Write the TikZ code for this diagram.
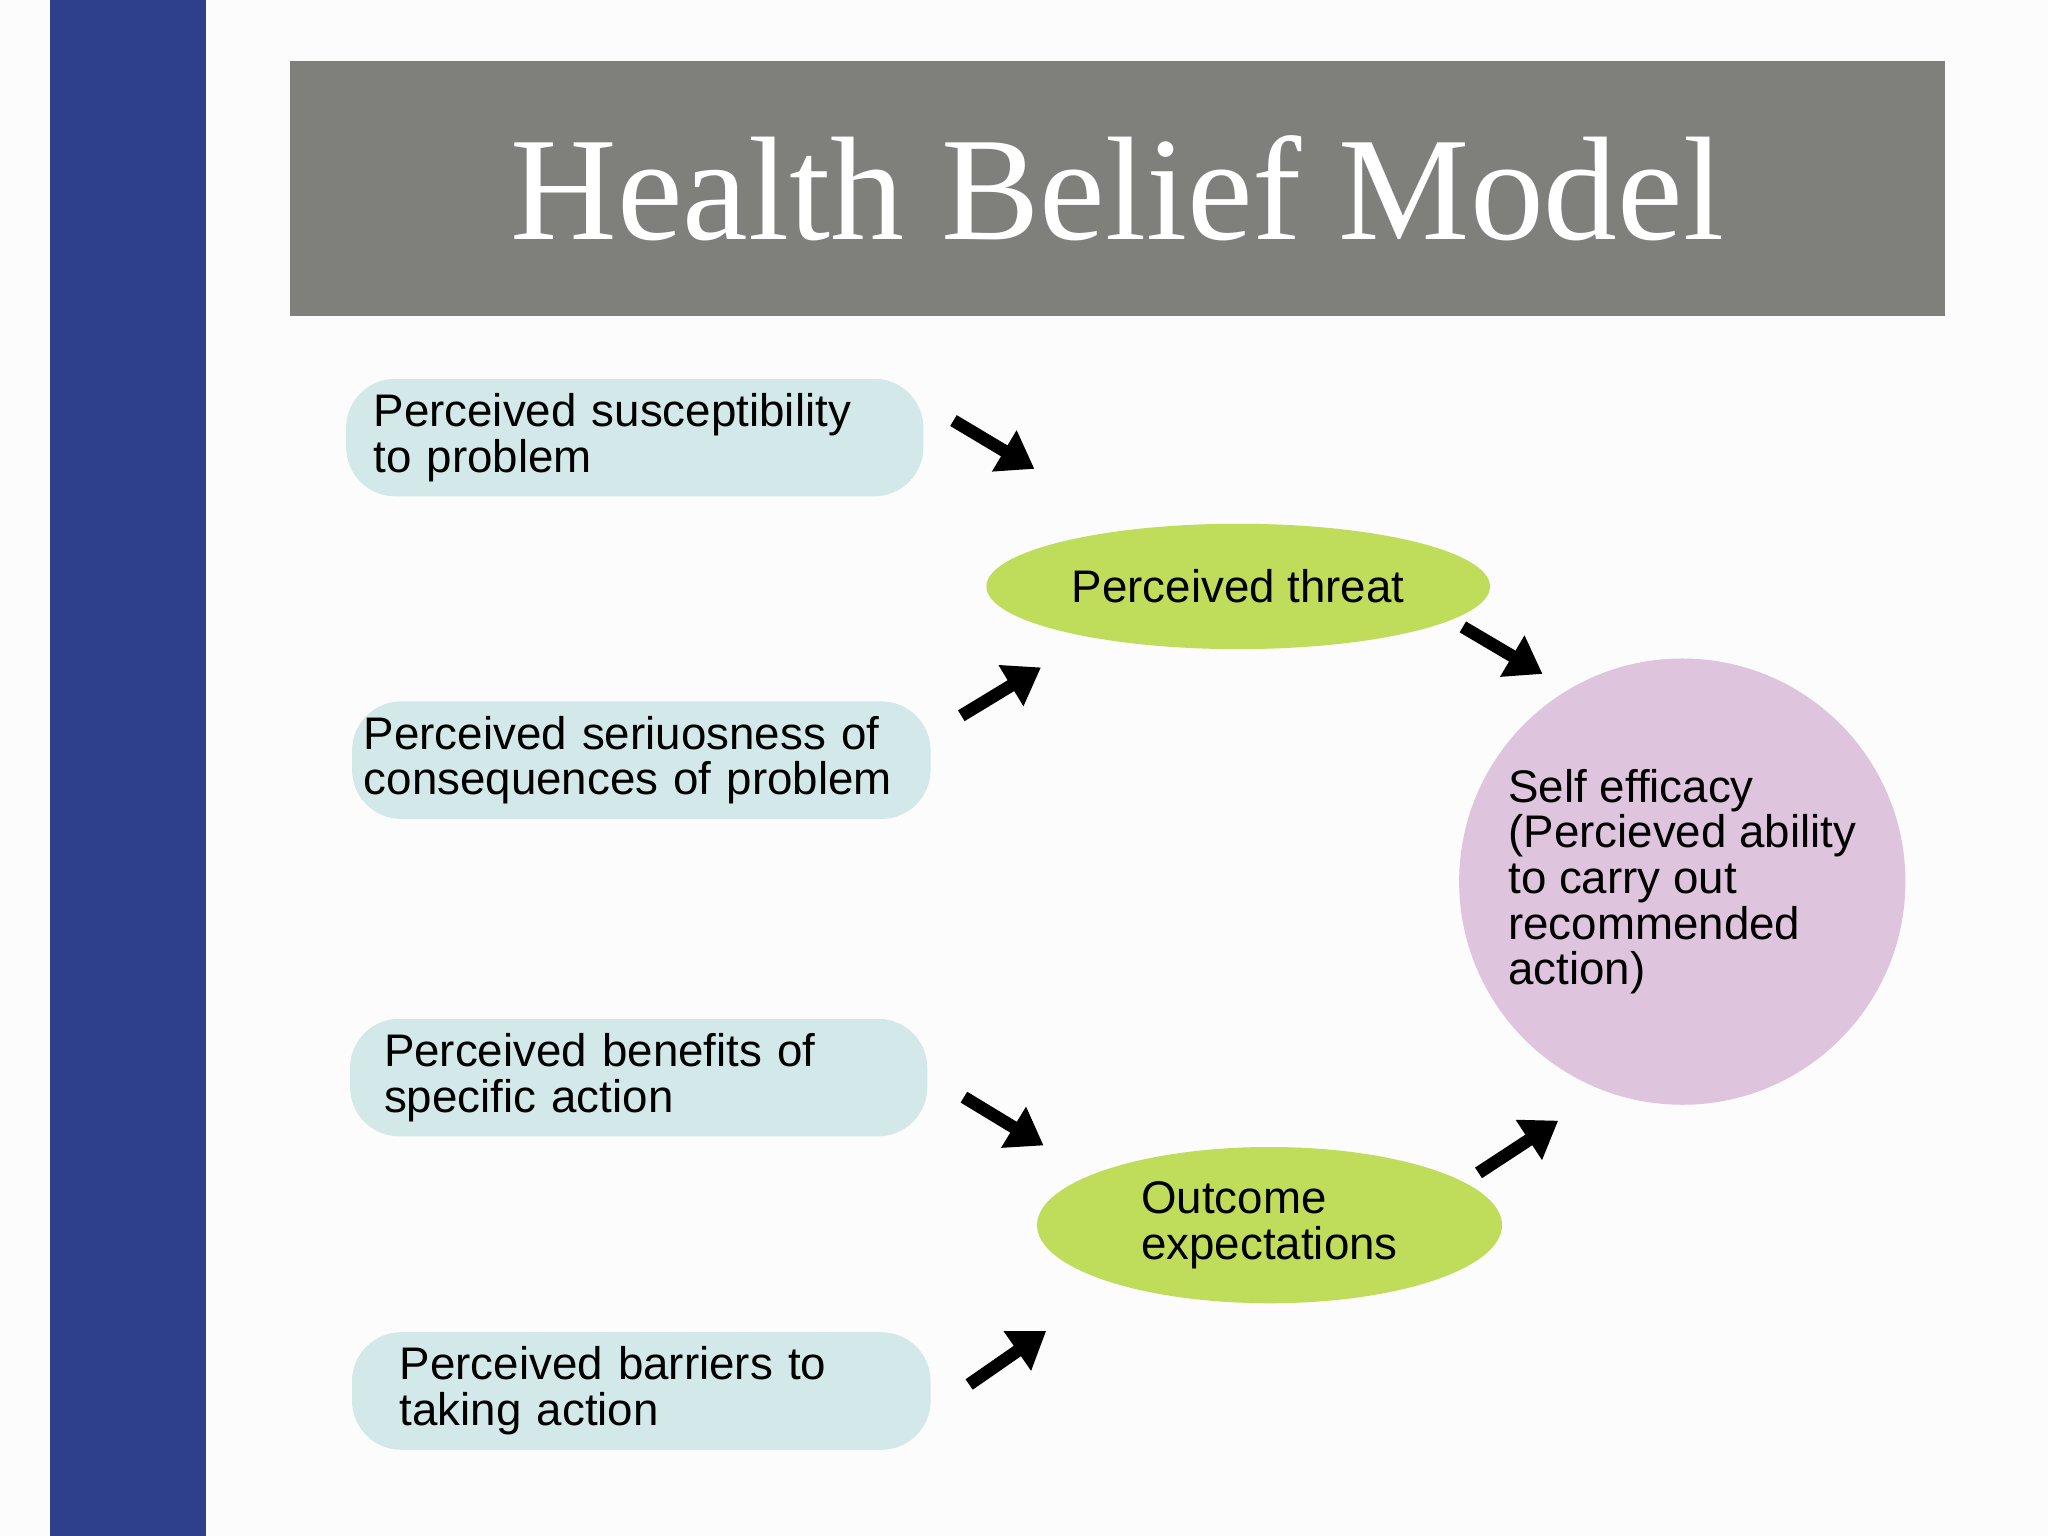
\documentclass[tikz,border=0pt]{standalone}
\usepackage{fontspec}
\setmainfont{Liberation Sans}
\newfontfamily\titlefont{Liberation Serif}
\usetikzlibrary{arrows.meta,shapes.geometric}
\definecolor{barblue}{HTML}{2E3F8C}
\definecolor{titlegray}{HTML}{7F807C}
\definecolor{boxblue}{HTML}{D3E8E8}
\definecolor{ellgreen}{HTML}{BFDC5B}
\definecolor{circpink}{HTML}{DFC4DE}
\tikzset{
  factor/.style={rounded corners=14pt, fill=boxblue, font=\fontsize{13}{13}\selectfont, align=left, text=black},
  mid/.style={ellipse, fill=ellgreen, font=\fontsize{13}{13}\selectfont, align=left},
  fat/.style={line width=3.6pt, -{Triangle[length=10pt,width=13pt]}, black}
}
\begin{document}
\begin{tikzpicture}[x=0.01306cm,y=-0.01306cm]
\fill[white!98!gray] (0,0) rectangle (1568,1176);
\useasboundingbox (0,0) rectangle (1568,1176);
\fill[barblue] (38,0) rectangle (158,1176);
\node[fill=titlegray, minimum width=1267*0.01306cm, minimum height=195*0.01306cm, inner sep=0pt, text=white, font=\titlefont\fontsize{42}{42}\selectfont] (title) at (855.5,144.5) {Health Belief Model};
\node[factor, minimum width=442*0.01306cm, minimum height=90*0.01306cm, text width=400*0.01306cm] (s) at (486,335) {Perceived susceptibility\\to problem};
\node[factor, minimum width=442*0.01306cm, minimum height=90*0.01306cm, text width=425*0.01306cm] (c) at (491,582) {Perceived seriuosness of\\consequences of problem};
\node[factor, minimum width=442*0.01306cm, minimum height=90*0.01306cm, text width=390*0.01306cm] (b) at (489,825) {Perceived benefits of\\specific action};
\node[factor, minimum width=443*0.01306cm, minimum height=90*0.01306cm, text width=370*0.01306cm] (r) at (491,1065) {Perceived barriers to\\taking action};
\node[mid, minimum width=356*0.01306cm, minimum height=96*0.01306cm] (t) at (948,449) {Perceived threat};
\node[mid, minimum width=356*0.01306cm, minimum height=94*0.01306cm] (o) at (972,938) {Outcome\\expectations};
\node[circle, fill=circpink, minimum size=336*0.01306cm, font=\fontsize{13}{13}\selectfont, align=left] (e) at (1288,675) {Self efficacy\\(Percieved ability\\to carry out\\recommended\\action)};
\coordinate (a1s) at (730,322); \coordinate (a1e) at (792,359);
\coordinate (a2s) at (736,548); \coordinate (a2e) at (797,511);
\coordinate (a3s) at (1120,480); \coordinate (a3e) at (1181,516);
\coordinate (a4s) at (738,840); \coordinate (a4e) at (799,877);
\coordinate (a5s) at (742,1060); \coordinate (a5e) at (801,1019);
\coordinate (a6s) at (1132,898); \coordinate (a6e) at (1193,858);
\draw[fat] (a1s) -- (a1e);
\draw[fat] (a2s) -- (a2e);
\draw[fat] (a3s) -- (a3e);
\draw[fat] (a4s) -- (a4e);
\draw[fat] (a5s) -- (a5e);
\draw[fat] (a6s) -- (a6e);
\end{tikzpicture}
\end{document}
